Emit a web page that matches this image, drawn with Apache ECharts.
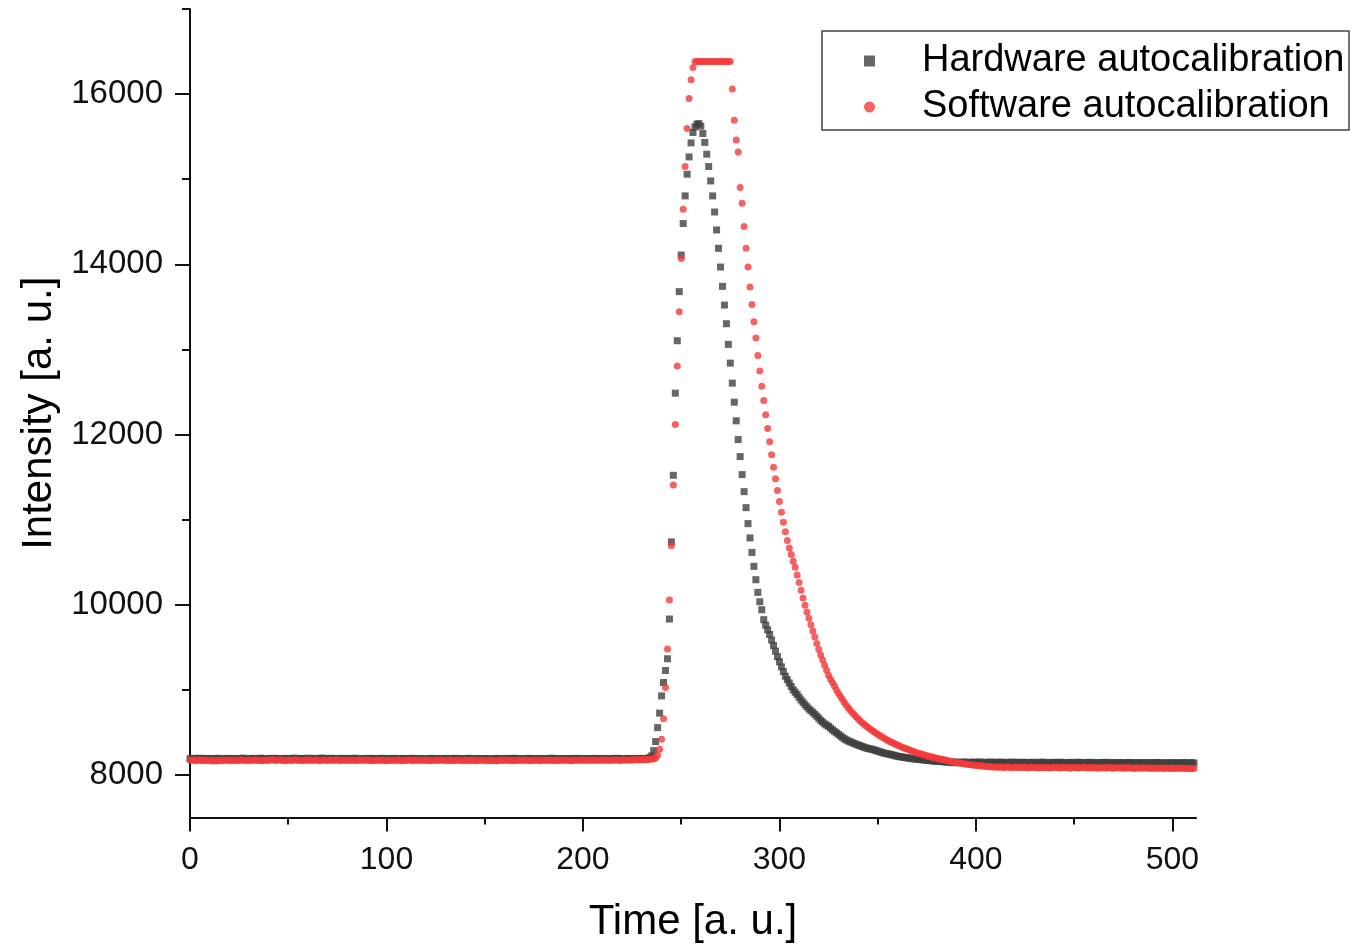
<!DOCTYPE html>
<html>
<head>
<meta charset="utf-8">
<script src="https://cdn.jsdelivr.net/npm/echarts@6/dist/echarts.min.js"></script>
<style>
html,body{margin:0;padding:0;background:#fff;overflow:hidden;}
#chart{position:absolute;left:0;top:0;width:1367px;height:944px;}
</style>
</head>
<body>
<div id="chart"></div>
<script>
// ---- Data (x = index 0..511) ----
const seriesNames = ['Hardware autocalibration', 'Software autocalibration'];

const hardwareY = [
8192,8188,8195,8186,8190,8197,8184,8191,8189,8194,
8187,8193,8185,8190,8196,8188,8183,8192,8189,8195,
8186,8191,8194,8187,8190,8185,8193,8198,8188,8191,
8184,8190,8195,8189,8186,8192,8197,8188,8191,8185,
8193,8189,8196,8187,8190,8194,8186,8191,8188,8195,
8190,8185,8192,8198,8189,8187,8194,8191,8186,8193,
8197,8190,8188,8195,8192,8186,8191,8199,8189,8194,
8192,8187,8196,8190,8185,8193,8189,8195,8191,8187,
8194,8190,8186,8192,8197,8189,8191,8185,8193,8190,
8188,8195,8191,8186,8194,8190,8187,8192,8196,8189,
8191,8186,8193,8190,8195,8188,8184,8192,8189,8194,
8190,8187,8193,8196,8188,8191,8185,8190,8194,8189,
8186,8192,8188,8195,8190,8184,8191,8193,8187,8190,
8194,8189,8186,8192,8188,8195,8190,8185,8193,8189,
8187,8191,8196,8188,8190,8184,8192,8189,8194,8186,
8190,8193,8187,8185,8191,8189,8195,8188,8186,8192,
8189,8194,8190,8187,8193,8196,8189,8191,8185,8190,
8192,8188,8195,8190,8186,8193,8189,8184,8191,8194,
8188,8190,8186,8192,8197,8189,8191,8187,8193,8190,
8185,8192,8188,8194,8190,8187,8191,8195,8189,8186,
8192,8190,8188,8193,8186,8191,8195,8189,8187,8192,
8190,8194,8188,8185,8191,8193,8189,8196,8190,8187,
8192,8188,8191,8194,8186,8190,8193,8189,8195,8191,
8188,8192,8190,8195,
8205,8224,8286,8392,8556,8726,8929,9086,9227,9365,
9832,10738,11521,12486,13102,13679,14109,14479,14804,15059,
15262,15427,15549,15615,15647,15653,15624,15537,15432,15294,
15149,14980,14804,14615,14404,14188,13968,13741,13521,13302,
13059,12839,12604,12380,12161,11941,11741,11529,11329,11141,
10953,10785,10615,10451,10294,10145,10035,9941,9824,
9760,9705,9650,9585,9520,9455,9390,9330,9270,9215,
9160,9120,9080,9040,9000,8972,8945,8912,8880,8852,
8825,8800,8775,8755,8735,8712,8690,8665,8640,8620,
8600,8585,8570,8550,8530,8512,8495,8478,8460,8442,
8425,8412,8400,8390,8380,8370,8361,8352,8343,8335,
8326,8318,8312,8307,8301,8296,8288,8280,8273,8265,
8258,8253,8248,8243,8238,8233,8226,8220,8216,8212,
8208,8205,8201,8198,8194,8191,8188,8185,8183,8180,
8178,8175,8173,8170,8168,8165,8163,8161,8160,8158,
8156,8155,8153,8151,8149,
8150,8144,8152,8147,8143,8149,8153,8146,8142,8150,
8147,8151,8144,8148,8153,8145,8141,8149,8146,8152,
8144,8148,8150,8143,8147,8151,8145,8140,8148,8146,
8152,8144,8147,8149,8142,8146,8150,8145,8139,8147,
8144,8150,8146,8141,8148,8145,8151,8143,8146,8140,
8147,8144,8149,8142,8146,8150,8143,8145,8139,8147,
8144,8148,8141,8146,8150,8143,8145,8140,8147,8144,
8149,8142,8145,8139,8146,8143,8148,8141,8145,8149,
8142,8144,8139,8146,8141,8147,8143,8138,8145,8142,
8147,8140,8144,8142,8137,8145,8141,8146,8139,8143,
8140,8145,8138,8142,8147,8139,8143,8141,8136,8144,
8140,8145,8138,8142,8139,8144,8137,8141,8146,8139,
8142,8138,8144,8140
];

const softwareY = [
8175,8170,8178,8168,8173,8180,8166,8174,8171,8177,
8169,8165,8172,8163,8168,8175,8166,8171,8177,8170,
8173,8168,8176,8171,8166,8174,8179,8170,8172,8167,
8175,8170,8173,8178,8169,8174,8171,8166,8176,8172,
8170,8177,8182,8173,8169,8175,8180,8171,8174,8168,
8176,8172,8169,8175,8179,8170,8173,8167,8174,8178,
8171,8175,8169,8173,8178,8170,8166,8174,8177,8172,
8169,8176,8173,8170,8175,8179,8168,8172,8176,8171,
8174,8169,8177,8172,8168,8175,8171,8178,8173,8170,
8176,8172,8167,8174,8170,8177,8173,8169,8175,8171,
8168,8174,8171,8177,8169,8173,8176,8170,8166,8174,
8171,8178,8172,8168,8175,8170,8173,8177,8169,8172,
8175,8170,8167,8174,8171,8176,8169,8173,8178,8170,
8172,8168,8175,8171,8166,8173,8177,8170,8174,8168,
8175,8171,8169,8176,8172,8167,8174,8170,8177,8173,
8169,8166,8172,8168,8174,8170,8165,8171,8175,8169,
8172,8177,8170,8174,8168,8173,8171,8176,8169,8172,
8175,8170,8173,8167,8174,8171,8177,8172,8168,8175,
8171,8174,8169,8176,8172,8170,8175,8168,8173,8177,
8170,8173,8176,8171,8168,8174,8172,8177,8170,8175,
8172,8169,8175,8171,8177,8173,8170,8176,8172,8174,
8178,8171,8175,8173,8169,8176,8172,8178,8174,8171,
8175,8179,8173,8177,8174,8180,8176,8178,8182,8177,
8181,8179,8184,8180,8186,8183,8190,8198,
8235,8302,8420,8659,9027,9479,10055,10694,11408,12118,
12804,13444,14067,14647,15149,15596,15949,16168,16314,
16383,16383,16383,16383,16383,16383,16383,16383,16383,16383,
16383,16383,16383,16383,16383,16383,16383,16383,16383,
16059,15694,15462,15321,14902,14718,14444,14188,13968,13733,
13529,13326,13133,12929,12745,12568,12400,12232,12071,11914,
11761,11615,11479,11341,11212,11086,10968,10859,10756,10667,
10590,10510,10440,10350,10260,10170,10080,9995,9915,9840,
9765,9690,9620,9545,9475,9410,9350,9290,9230,
9170,9125,9085,9045,9000,8960,8925,8890,8855,8820,
8790,8760,8735,8710,8685,8660,8638,8617,8597,8578,
8560,8543,8526,8510,8494,8479,8464,8449,8435,8422,
8409,8397,8385,8374,8363,8352,8344,8329,8323,8310,
8305,8292,8287,8275,8271,8259,8256,8245,8242,8231,
8228,8218,8216,8206,8204,8195,8194,8185,8184,8176,
8172,8163,8162,8153,8152,8144,8144,8136,8136,8129,
8129,8122,8123,8116,8117,8110,8112,8105,8107,8101,
8103,8097,8099,8094,8096,8091,8094,8089,
8092,8086,8090,8095,8087,8091,8084,8089,8093,8086,
8090,8085,8092,8088,8083,8089,8094,8086,8088,8082,
8087,8091,8084,8089,8086,8081,8088,8092,8085,8087,
8083,8089,8086,8091,8084,8080,8087,8090,8085,8082,
8088,8084,8090,8086,8081,8087,8083,8089,8085,8080,
8086,8083,8088,8081,8085,8089,8082,8078,8085,8087,
8081,8084,8079,8086,8082,8088,8080,8083,8077,8085,
8081,8079,8084,8080,8086,8078,8082,8076,8083,8080,
8078,8084,8079,8075,8082,8080,8077,8083,8076,8079,
8081,8075,8079,8083,8076,8078,8074,8080,8077
];

const xMajorTicks = [0, 100, 200, 300, 400, 500];
const xMinorTicks = [50, 150, 250, 350, 450];
const yMajorTicks = [8000, 10000, 12000, 14000, 16000];
const yMinorTicks = [9000, 11000, 13000, 15000, 17000];

const xName = 'Time [a. u.]';
const yName = 'Intensity [a. u.]';

// ---- Build ----
const toPairs = arr => arr.map((v, i) => [i, v]);
const FONT = 'Liberation Sans, Arial, Helvetica, sans-serif';
const axisColor = '#111';
const plainNum = v => String(v);

const chart = echarts.init(document.getElementById('chart'), null, {renderer: 'canvas', width: 1367, height: 944});
chart.setOption({
  animation: false,
  backgroundColor: '#ffffff',
  textStyle: {fontFamily: FONT},
  grid: {left: 190, right: 171, top: 9, bottom: 126.5, containLabel: false, outerBoundsMode: 'none'},
  xAxis: [
    {
      type: 'value', min: 0, max: 512,
      name: xName, nameLocation: 'middle', nameGap: 84,
      nameTextStyle: {fontSize: 42, color: '#000', fontFamily: FONT},
      axisLine: {show: true, onZero: false, lineStyle: {color: axisColor, width: 2}},
      axisTick: {show: true, inside: false, length: 14, lineStyle: {color: axisColor, width: 2}, customValues: xMajorTicks},
      axisLabel: {show: true, fontSize: 32, color: '#111', margin: 27, fontFamily: FONT, customValues: xMajorTicks, formatter: plainNum},
      splitLine: {show: false}
    },
    {
      type: 'value', min: 0, max: 512, position: 'bottom',
      axisLine: {show: false},
      axisTick: {show: true, inside: false, length: 7, lineStyle: {color: axisColor, width: 2}, customValues: xMinorTicks},
      axisLabel: {show: false},
      splitLine: {show: false}
    }
  ],
  yAxis: [
    {
      type: 'value', min: 7500, max: 17000,
      name: yName, nameLocation: 'middle', nameGap: 127, nameRotate: 90,
      nameTextStyle: {fontSize: 42, color: '#000', fontFamily: FONT},
      axisLine: {show: true, onZero: false, lineStyle: {color: axisColor, width: 2}},
      axisTick: {show: true, inside: false, length: 15, lineStyle: {color: axisColor, width: 2}, customValues: yMajorTicks},
      axisLabel: {show: true, fontSize: 33, color: '#111', margin: 27, fontFamily: FONT, customValues: yMajorTicks, formatter: plainNum},
      splitLine: {show: false}
    },
    {
      type: 'value', min: 7500, max: 17000, position: 'left',
      axisLine: {show: false},
      axisTick: {show: true, inside: false, length: 8, lineStyle: {color: axisColor, width: 2}, customValues: yMinorTicks},
      axisLabel: {show: false},
      splitLine: {show: false}
    }
  ],
  legend: {
    orient: 'vertical',
    left: 864, top: 38,
    padding: 0, itemGap: 0,
    itemWidth: 11, itemHeight: 11,
    textStyle: {fontSize: 38, lineHeight: 46, color: '#000', fontFamily: FONT, padding: [0, 0, 0, 42]},
    data: [
      {name: seriesNames[0], icon: 'rect'},
      {name: seriesNames[1], icon: 'circle'}
    ]
  },
  graphic: [{
    type: 'rect', z: 100,
    shape: {x: 822, y: 31, width: 527, height: 99},
    style: {fill: 'none', stroke: '#444', lineWidth: 1.5}
  }],
  series: [
    {
      name: seriesNames[0], type: 'scatter', xAxisIndex: 0, yAxisIndex: 0,
      symbol: 'rect', symbolSize: 7,
      itemStyle: {color: '#404040'},
      data: toPairs(hardwareY)
    },
    {
      name: seriesNames[1], type: 'scatter', xAxisIndex: 0, yAxisIndex: 0,
      symbol: 'circle', symbolSize: 7,
      itemStyle: {color: '#f23b3b'},
      data: toPairs(softwareY)
    }
  ]
});
</script>
</body>
</html>
